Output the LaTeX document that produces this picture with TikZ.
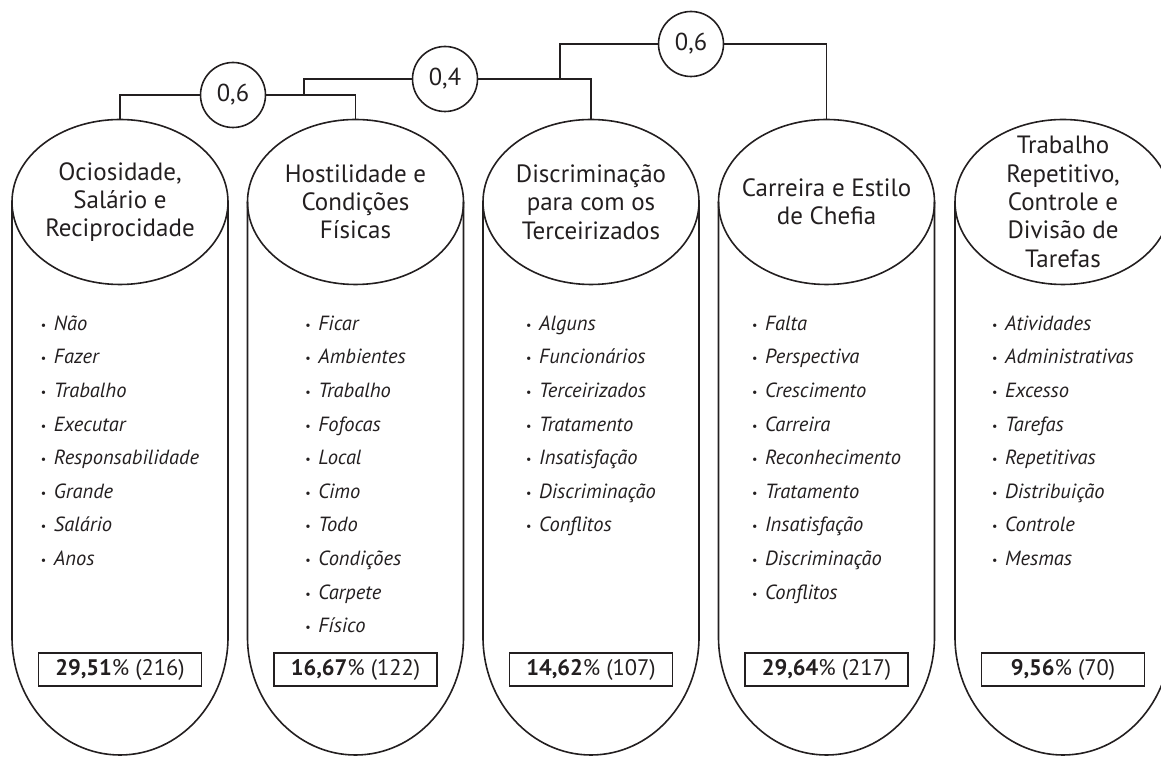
\documentclass[tikz,border=0pt]{standalone}
\usepackage{fontspec}
\setmainfont{PT Sans}
\usetikzlibrary{shapes.geometric}
\definecolor{InkBlack}{RGB}{35, 31, 32}
\newcommand{\blt}{\strut\makebox[13pt][l]{\upshape\raisebox{1pt}{\fontsize{12}{12}\selectfont •}}}

\begin{document}
\begin{tikzpicture}[x=1pt, y=1pt, line width=1.6pt, InkBlack,
    cylhead/.style={ellipse, draw, minimum width=216pt, minimum height=165pt, inner sep=0pt, outer sep=0pt},
    headtext/.style={align=center, inner sep=0pt, font=\fontsize{25}{28.3}\selectfont},
    wordlist/.style={anchor=north, align=left, inner sep=0pt, font=\itshape\fontsize{20.5}{33.6}\selectfont},
    sharebox/.style={draw, line width=1.1pt, minimum width=163pt, minimum height=33pt, inner sep=0pt, font=\fontsize{22.5}{26}\selectfont},
    weight/.style={circle, draw, minimum size=65pt, inner sep=0pt, outer sep=0pt, font=\fontsize{24.5}{28.3}\selectfont}]
            \useasboundingbox (0,0) rectangle (1161,757);
            % heads of the five cylinders
            \node[cylhead] (t1) at (120, 555) {};
            \node[cylhead] (t2) at (355.5, 555) {};
            \node[cylhead] (t3) at (591, 555) {};
            \node[cylhead] (t4) at (826.5, 555) {};
            \node[cylhead] (t5) at (1063, 555) {};
            \draw (t1.west) -- ++(0,-435) arc[start angle=180, end angle=360, x radius=108, y radius=118] -- (t1.east);
            \draw (t2.west) -- ++(0,-435) arc[start angle=180, end angle=360, x radius=108, y radius=118] -- (t2.east);
            \draw (t3.west) -- ++(0,-435) arc[start angle=180, end angle=360, x radius=108, y radius=118] -- (t3.east);
            \draw (t4.west) -- ++(0,-435) arc[start angle=180, end angle=360, x radius=108, y radius=118] -- (t4.east);
            \draw (t5.west) -- ++(0,-435) arc[start angle=180, end angle=360, x radius=108, y radius=118] -- (t5.east);
            \node[headtext] (h1) at (t1.center) {Ociosidade,\\Salário e\\Reciprocidade};
            \node[headtext] (h2) at (t2.center) {Hostilidade e\\Condições\\Físicas};
            \node[headtext] (h3) at (t3.center) {Discriminação\\para com os\\Terceirizados};
            \node[headtext] (h4) at (t4.center) {Carreira e Estilo\\de Chefia};
            \node[headtext] (h5) at (t5.center) {Trabalho\\Repetitivo,\\Controle e\\Divisão de\\Tarefas};
            % word lists
            \node[wordlist] (l1) at (120, 451) {\blt Não\\\blt Fazer\\\blt Trabalho\\\blt Executar\\\blt Responsabilidade\\\blt Grande\\\blt Salário\\\blt Anos};
            \node[wordlist] (l2) at (355.5, 451) {\blt Ficar\\\blt Ambientes\\\blt Trabalho\\\blt Fofocas\\\blt Local\\\blt Cimo\\\blt Todo\\\blt Condições\\\blt Carpete\\\blt Físico};
            \node[wordlist] (l3) at (591, 451) {\blt Alguns\\\blt Funcionários\\\blt Terceirizados\\\blt Tratamento\\\blt Insatisfação\\\blt Discriminação\\\blt Conflitos};
            \node[wordlist] (l4) at (826.5, 451) {\blt Falta\\\blt Perspectiva\\\blt Crescimento\\\blt Carreira\\\blt Reconhecimento\\\blt Tratamento\\\blt Insatisfação\\\blt Discriminação\\\blt Conflitos};
            \node[wordlist] (l5) at (1063, 451) {\blt Atividades\\\blt Administrativas\\\blt Excesso\\\blt Tarefas\\\blt Repetitivas\\\blt Distribuição\\\blt Controle\\\blt Mesmas};
            % shares
            \node[sharebox] (s1) at (120, 87.5) {\textbf{29,51}\% (216)};
            \node[sharebox] (s2) at (355.5, 87.5) {\textbf{16,67}\% (122)};
            \node[sharebox] (s3) at (591, 87.5) {\textbf{14,62}\% (107)};
            \node[sharebox] (s4) at (826.5, 87.5) {\textbf{29,64}\% (217)};
            \node[sharebox] (s5) at (1063, 87.5) {\textbf{9,56}\% (70)};
            % tree of weights
            \node[weight] (w1) at (233, 662) {0,6};
            \node[weight] (w2) at (445, 678) {0,4};
            \node[weight] (w3) at (691, 713) {0,6};
            \coordinate (b1) at (304, 662);
            \coordinate (b2) at (560, 678);
            \draw (w1.west) -| (t1.north);
            \draw (w1.east) -| (t2.north);
            \draw (b1) |- (w2.west);
            \draw (w2.east) -| (t3.north);
            \draw (b2) |- (w3.west);
            \draw (w3.east) -| (t4.north);
        \end{tikzpicture}
\end{document}
